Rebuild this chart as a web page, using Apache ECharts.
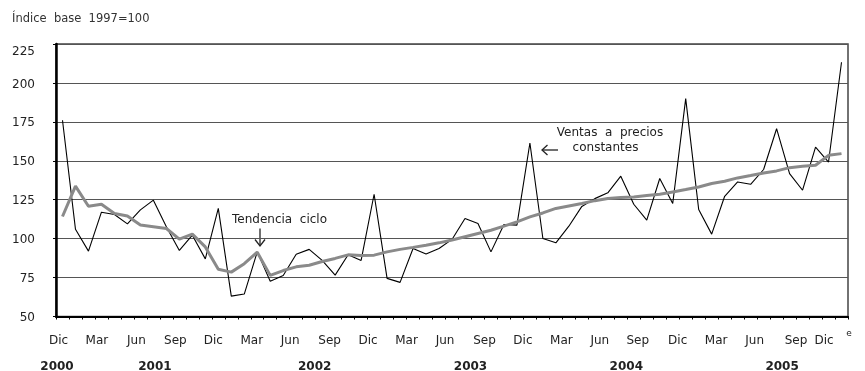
<!DOCTYPE html>
<html><head><meta charset="utf-8">
<script src="https://cdn.jsdelivr.net/npm/echarts@6/dist/echarts.min.js"></script>
<style>html,body{margin:0;padding:0;background:#fff}#c{width:865px;height:371px}</style>
</head><body><div id="c"></div>
<script>
// ---- data ----
const categories = [
 'Dic-00',
 'Ene-01','Feb-01','Mar-01','Abr-01','May-01','Jun-01','Jul-01','Ago-01','Sep-01','Oct-01','Nov-01','Dic-01',
 'Ene-02','Feb-02','Mar-02','Abr-02','May-02','Jun-02','Jul-02','Ago-02','Sep-02','Oct-02','Nov-02','Dic-02',
 'Ene-03','Feb-03','Mar-03','Abr-03','May-03','Jun-03','Jul-03','Ago-03','Sep-03','Oct-03','Nov-03','Dic-03',
 'Ene-04','Feb-04','Mar-04','Abr-04','May-04','Jun-04','Jul-04','Ago-04','Sep-04','Oct-04','Nov-04','Dic-04',
 'Ene-05','Feb-05','Mar-05','Abr-05','May-05','Jun-05','Jul-05','Ago-05','Sep-05','Oct-05','Nov-05','Dic-05'
];
const ventas = [
 176,
 106, 92, 117, 115.5, 109.5, 118.5, 124.7, 107.6, 92.4, 102.2, 87, 119.4,
 63.1, 64.4, 91.5, 72.7, 76.3, 90, 93.1, 86, 76.6, 89.7, 86, 128.5,
 74.5, 71.9, 93.7, 90.1, 93.7, 99.5, 112.9, 109.7, 91.5, 109.1, 108.7, 161.4,
 100.1, 97.3, 108, 120.7, 125.7, 129.4, 140.1, 122.1, 111.9, 138.6, 122.6, 189.9,
 118.7, 102.9, 127.2, 136.4, 134.9, 144.4, 170.6, 141.8, 131.1, 158.8, 149.2, 213.3
];
const tendencia = [
 114.2,
 133.7, 120.8, 122.1, 116.2, 114.5, 108.7, 107.6, 106.5, 99.7, 102.9, 94.7, 80.3,
 78.5, 83.9, 91.3, 76.4, 79.5, 81.9, 82.9, 85.3, 87.3, 89.6, 89.1, 89.4,
 91.5, 93.1, 94.4, 95.8, 97.3, 99.1, 101.2, 103.3, 105.4, 108, 110.8, 114,
 116.5, 119.4, 121, 122.6, 124.4, 125.8, 126.4, 126.8, 127.7, 128.5, 130, 131.5,
 133.2, 135.4, 136.9, 139, 140.5, 142.2, 143.5, 145.6, 146.5, 147.1, 153.5, 154.6
];
const yTickValues = [50, 75, 100, 125, 150, 175, 200, 225];
const yearLabels = ['2000', '2001', '2002', '2003', '2004', '2005'];
const yearLabelAt = ['Dic-00', 'Jul-01', 'Jul-02', 'Jul-03', 'Jul-04', 'Jul-05'];
const titleText = 'Índice  base  1997=100';
const seriesNames = ['Ventas  a  precios', 'constantes', 'Tendencia  ciclo'];
const footMark = 'e';

// ---- styling ----
const FONT = 'DejaVu Sans';
const TXT = '#222';
// per-label left shift (padding right) to mimic the reference label placement
const xPad = {0:8,3:9,6:8,9:8,12:10,15:11,18:12,21:11,24:12,27:13,30:14,33:13,36:14,39:15,42:16,45:18,48:16,51:17,54:18,57:13,60:35};
const xRich = {};
for (let p = 6; p <= 36; p++) xRich['p' + p] = {padding: [0, p, 0, 0], fontFamily: FONT, fontSize: 12, color: TXT};
const yearRich = {
  y0: {padding: [0, 11, 0, 0], fontFamily: FONT, fontSize: 12, fontWeight: 'bold', color: TXT},
  y1: {padding: [0, 0, 0, 3], fontFamily: FONT, fontSize: 12, fontWeight: 'bold', color: TXT},
  y2: {padding: [0, 0, 0, 11], fontFamily: FONT, fontSize: 12, fontWeight: 'bold', color: TXT}
};

const chart = echarts.init(document.getElementById('c'), null, {renderer: 'canvas'});
chart.setOption({
  animation: false,
  backgroundColor: '#fff',
  grid: {left: 56, right: 17, top: 44, bottom: 54.5, show: true, borderColor: '#444', borderWidth: 1.5, containLabel: false, outerBoundsMode: 'none'},
  xAxis: [{
    type: 'category', data: categories, boundaryGap: true, position: 'bottom',
    axisLine: {show: true, onZero: false, lineStyle: {color: '#000', width: 2}},
    axisTick: {show: true, interval: 0, length: 3, lineStyle: {color: '#000', width: 1}},
    axisLabel: {
      interval: 2, margin: 18, fontFamily: FONT, fontSize: 12, color: TXT,
      formatter: function (v, i) { const m = v.split('-')[0]; const p = xPad[i] || 8; return '{p' + p + '|' + m + '}'; },
      rich: xRich
    },
    splitLine: {show: false}
  }, {
    type: 'category', data: categories, boundaryGap: true, position: 'bottom',
    axisLine: {show: false}, axisTick: {show: false}, splitLine: {show: false},
    axisLabel: {
      interval: 0, margin: 44, fontFamily: FONT, fontSize: 12, fontWeight: 'bold', color: TXT,
      formatter: function (v) {
        const k = yearLabelAt.indexOf(v);
        if (k < 0) return '';
        const cls = k === 0 ? 'y0' : (k === 1 ? 'y1' : 'y2');
        return '{' + cls + '|' + yearLabels[k] + '}';
      },
      rich: yearRich
    }
  }],
  yAxis: {
    type: 'value', min: yTickValues[0], max: yTickValues[yTickValues.length - 1],
    interval: yTickValues[1] - yTickValues[0],
    axisLine: {show: true, lineStyle: {color: '#000', width: 2.5}},
    axisTick: {show: true, length: 3, lineStyle: {color: '#000'}},
    axisLabel: {
      margin: 21, fontFamily: FONT, fontSize: 12, color: TXT,
      formatter: function (v) { return v === yTickValues[yTickValues.length - 1] ? '{t|' + v + '}' : '{n|' + v + '}'; },
      rich: {
        t: {padding: [16, 0, 0, 0], fontFamily: FONT, fontSize: 12, color: TXT},
        n: {padding: [3, 0, 0, 0], fontFamily: FONT, fontSize: 12, color: TXT}
      }
    },
    splitLine: {show: true, lineStyle: {color: '#555', width: 1}}
  },
  series: [
    {name: 'Ventas a precios constantes', type: 'line', data: ventas, symbol: 'none', z: 2,
     lineStyle: {color: '#000', width: 1.1}},
    {name: 'Tendencia ciclo', type: 'line', data: tendencia, symbol: 'none', z: 3,
     lineStyle: {color: '#8a8a8a', width: 3}}
  ],
  graphic: [
    {type: 'text', x: 12, y: 19, style: {text: titleText, font: '11.5px "DejaVu Sans"', fill: '#333', verticalAlign: 'middle'}},
    {type: 'text', x: 232, y: 219.5, style: {text: seriesNames[2], font: '12px "DejaVu Sans"', fill: TXT, verticalAlign: 'middle'}},
    {type: 'polyline', shape: {points: [[260, 228.5], [260, 246]]}, style: {stroke: TXT, lineWidth: 1.3, fill: null}},
    {type: 'polyline', shape: {points: [[255, 239.5], [260, 246], [265, 239.5]]}, style: {stroke: TXT, lineWidth: 1.3, fill: null}},
    {type: 'text', x: 610, y: 133, style: {text: seriesNames[0], font: '12px "DejaVu Sans"', fill: TXT, align: 'center', verticalAlign: 'middle'}},
    {type: 'text', x: 605.5, y: 147.5, style: {text: seriesNames[1], font: '12px "DejaVu Sans"', fill: TXT, align: 'center', verticalAlign: 'middle'}},
    {type: 'polyline', shape: {points: [[558, 150], [542, 150]]}, style: {stroke: TXT, lineWidth: 1.3, fill: null}},
    {type: 'polyline', shape: {points: [[547.5, 145], [542, 150], [547.5, 155]]}, style: {stroke: TXT, lineWidth: 1.3, fill: null}},
    {type: 'text', x: 849, y: 334, style: {text: footMark, font: '9px "DejaVu Sans"', fill: TXT, align: 'center', verticalAlign: 'middle'}}
  ]
});
</script>
</body></html>
